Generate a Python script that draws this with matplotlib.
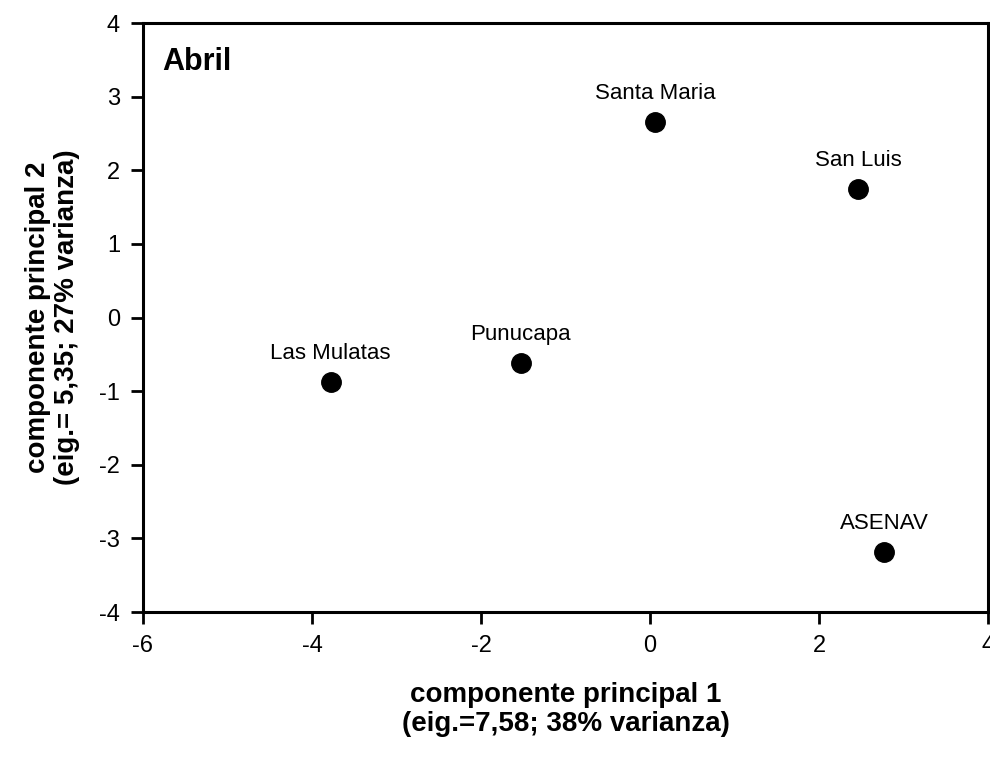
import matplotlib
matplotlib.use('Agg')
from matplotlib import pyplot as plt

# PCA scores for each site (April)
sites = ['Santa Maria', 'San Luis', 'Punucapa', 'Las Mulatas', 'ASENAV']
pc1 = [0.06, 2.46, -1.53, -3.78, 2.77]
pc2 = [2.65, 1.74, -0.62, -0.88, -3.19]

xticks = [-6, -4, -2, 0, 2, 4]
yticks = [-4, -3, -2, -1, 0, 1, 2, 3, 4]

plt.rcParams['font.family'] = ['Liberation Sans', 'DejaVu Sans']
plt.rcParams['axes.unicode_minus'] = False

fig = plt.figure(figsize=(9.9, 7.57), dpi=100)
ax = fig.add_axes([0.1444, 0.1915, 0.8536, 0.7781])

ax.plot(pc1, pc2, 'o', color='black', markersize=14, linestyle='none', clip_on=False)
for name, x, y in zip(sites, pc1, pc2):
    ax.annotate(name, (x, y), xytext=(0, 13), textcoords='offset points',
                ha='center', va='bottom', fontsize=16)

ax.text(0.023, 0.96, 'Abril', transform=ax.transAxes, fontsize=22,
        fontweight='bold', va='top', ha='left')

ax.set_xlim(-6, 4)
ax.set_ylim(-4, 4)
ax.set_xticks(xticks)
ax.set_yticks(yticks)
ax.tick_params(direction='out', length=8.5, width=2, labelsize=17, pad=8)
for s in ax.spines.values():
    s.set_linewidth(2.2)

ax.set_xlabel('componente principal 1\n(eig.=7,58; 38% varianza)',
              fontsize=20, fontweight='bold', labelpad=18, linespacing=1.15)
ax.set_ylabel('componente principal 2\n(eig.= 5,35; 27% varianza)',
              fontsize=20, fontweight='bold', labelpad=14, linespacing=1.15)

fig.savefig('out.png', dpi=100)
